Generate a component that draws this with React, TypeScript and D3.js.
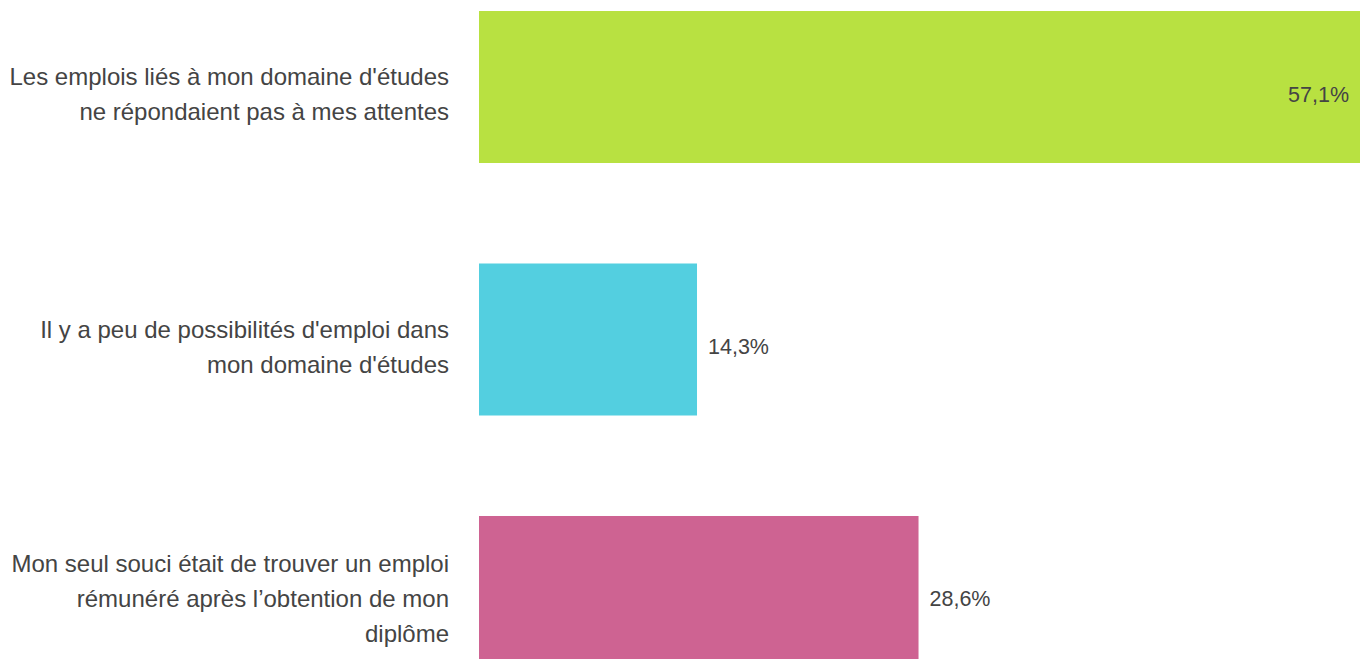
import React from "react";
import * as d3 from "d3";

const categories: string[][] = [
  ["Les emplois liés à mon domaine d'études", "ne répondaient pas à mes attentes"],
  ["Il y a peu de possibilités d'emploi dans", "mon domaine d'études"],
  ["Mon seul souci était de trouver un emploi", "rémunéré après l’obtention de mon", "diplôme"],
];
const values: number[] = [57.1, 14.3, 28.6];
const valueLabels: string[] = ["57,1%", "14,3%", "28,6%"];
const colors: string[] = ["#b8e141", "#53cfe0", "#ce6392"];

const W = 1370;
const H = 659;

export default function App() {
  const x = d3.scaleLinear().domain([0, 57.1]).range([475.5, 1360]);
  const barLeft = 479;
  const y = d3
    .scaleBand<number>()
    .domain(d3.range(values.length))
    .range([11, 668])
    .paddingInner(0.398)
    .paddingOuter(0);
  const lineH = 35;
  const font = "'Liberation Sans', Arial, sans-serif";
  return (
    <div style={{ position: "fixed", left: 0, top: 0 }}>
      <svg width={W} height={H} style={{ display: "block" }}>
        <rect width={W} height={H} fill="#fff" />
        {values.map((v, i) => {
          const y0 = y(i)!;
          const bw = y.bandwidth();
          const cy = y0 + bw / 2;
          const lines = categories[i];
          const xe = x(v);
          const inside = xe - barLeft > 0.8 * (x.range()[1] - barLeft);
          return (
            <g key={i}>
              <rect x={barLeft} y={y0} width={xe - barLeft} height={bw} fill={colors[i]} />
              {lines.map((ln, j) => (
                <text
                  key={j}
                  x={449}
                  y={cy + 15.5 + (j - (lines.length - 1) / 2) * lineH}
                  textAnchor="end"
                  fontFamily={font}
                  fontSize={24}
                  fill="#444"
                >
                  {ln}
                </text>
              ))}
              <text
                x={inside ? xe - 11 : xe + 11}
                y={cy + 14.5}
                textAnchor={inside ? "end" : "start"}
                fontFamily={font}
                fontSize={21.5}
                fill="#444"
              >
                {valueLabels[i]}
              </text>
            </g>
          );
        })}
      </svg>
    </div>
  );
}
